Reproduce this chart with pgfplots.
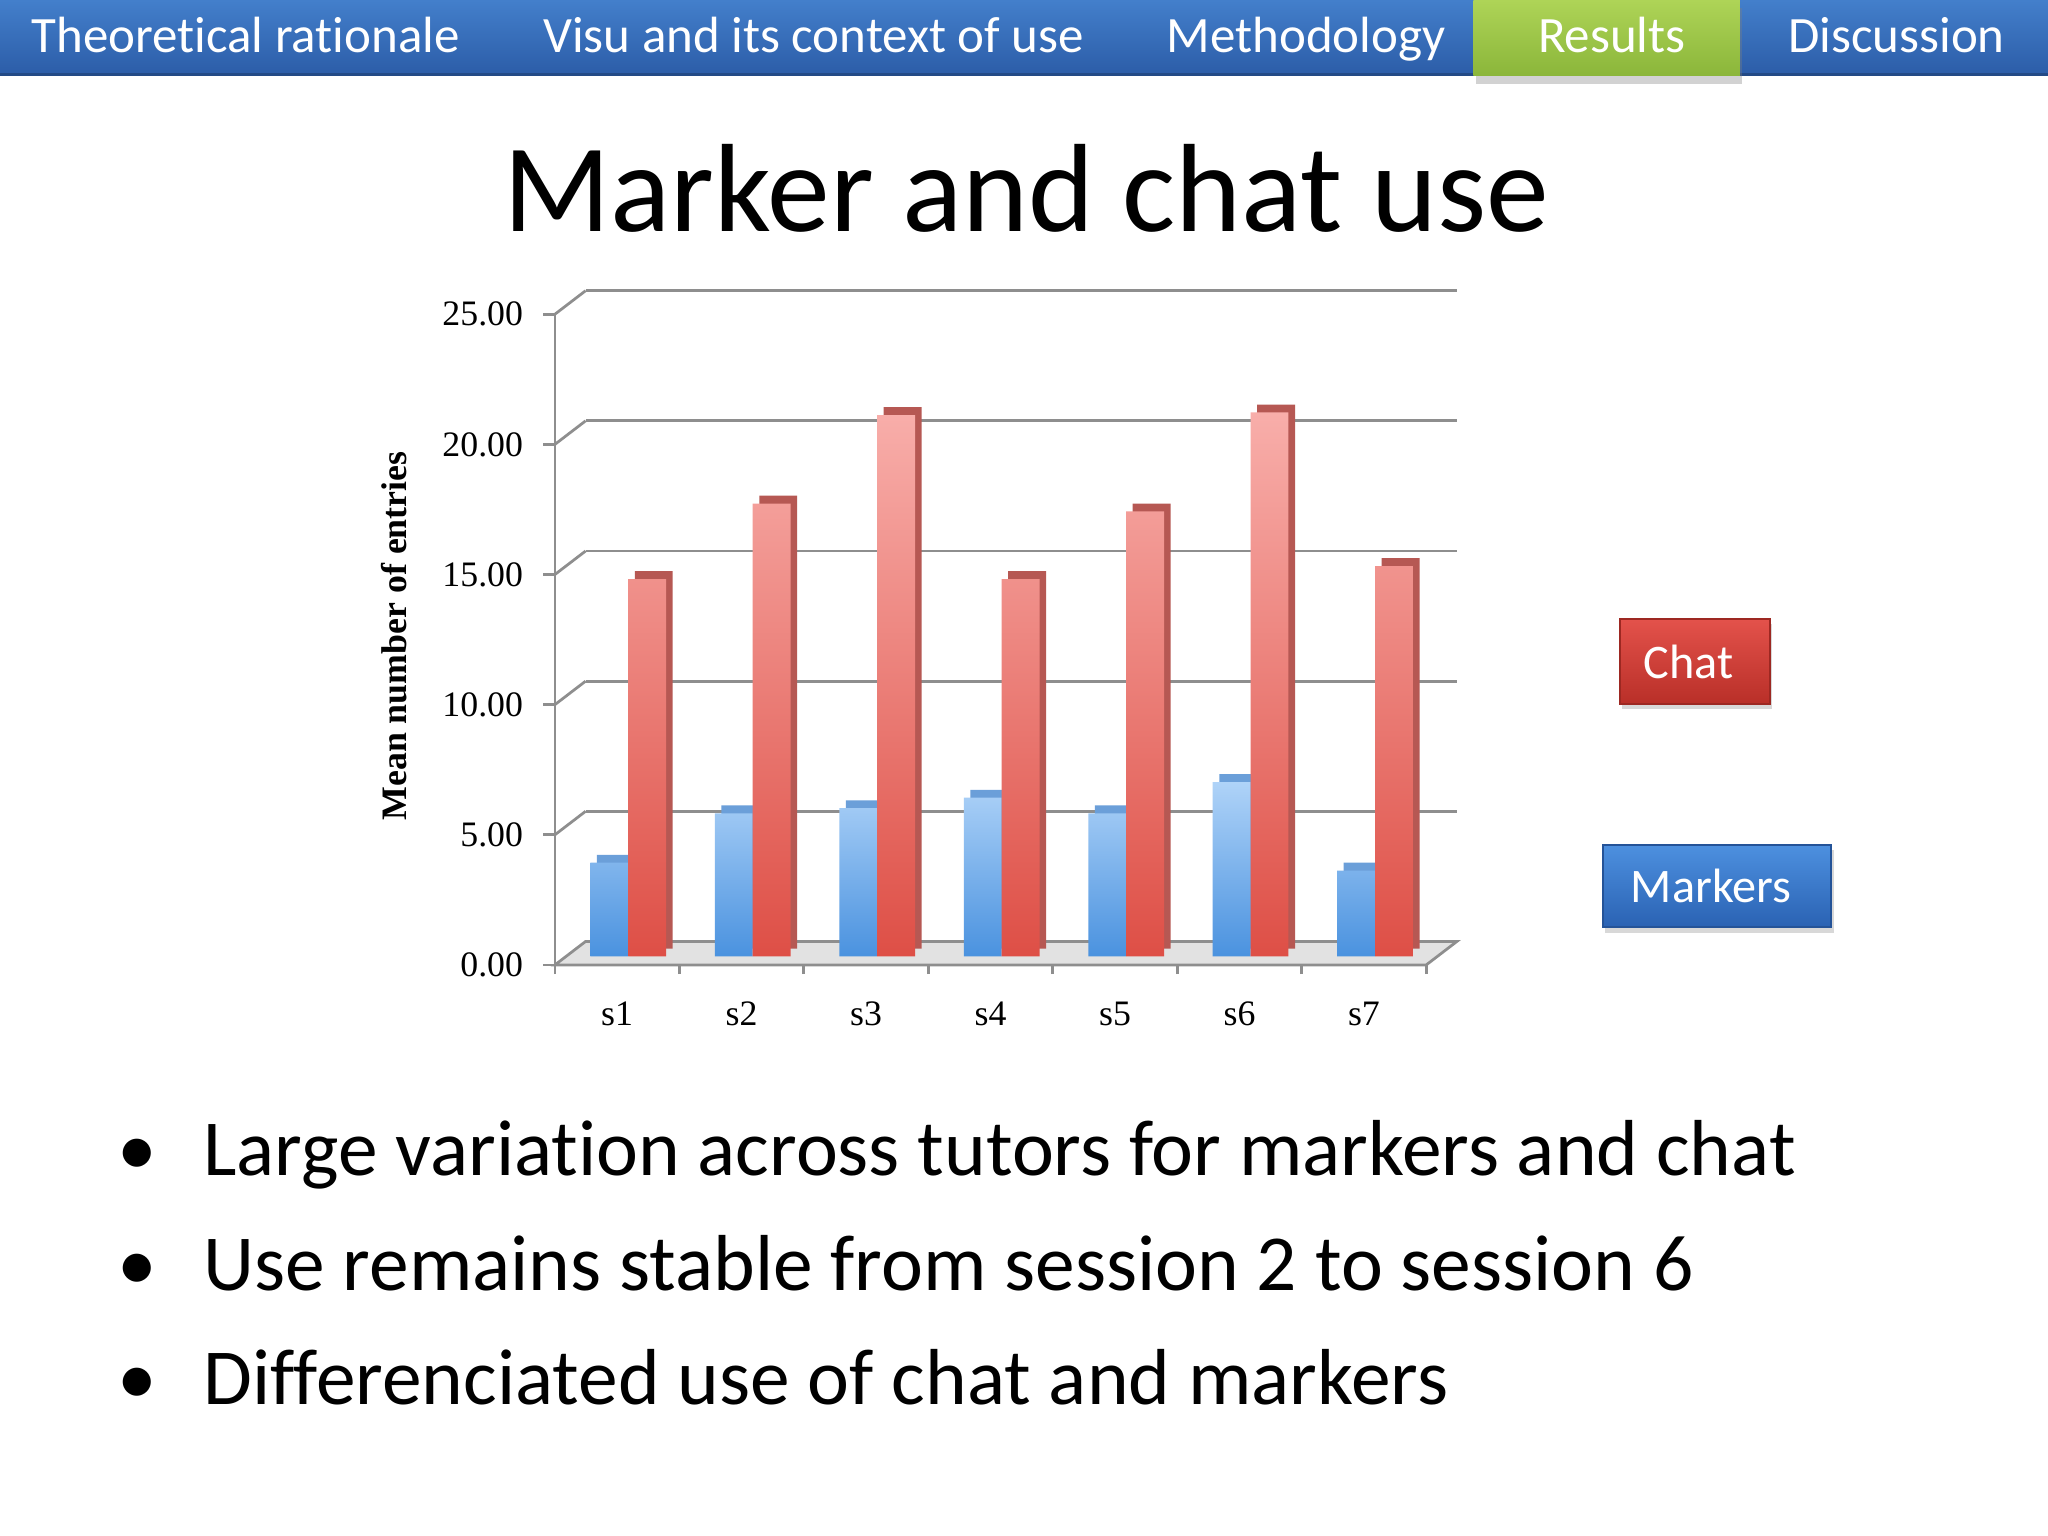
\documentclass[border=0pt]{standalone}
\usepackage{pgfplots}
\pgfplotsset{compat=1.18}
\usepackage{fontspec}
\setmainfont{Carlito}[Ligatures=NoCommon]
\newfontfamily\timesf{Liberation Serif}
\usetikzlibrary{shadows}
\definecolor{navtop}{HTML}{437FCB}
\definecolor{navbot}{HTML}{2C5DA8}
\definecolor{greentop}{HTML}{AED457}
\definecolor{greenbot}{HTML}{8BB63A}
\definecolor{axisgray}{HTML}{8E8E8E}
\definecolor{floorgray}{HTML}{E2E2E2}
\definecolor{redtop}{HTML}{F8AEAA}
\definecolor{redbot}{HTML}{DE4F46}
\definecolor{bluetop}{HTML}{AFD3F8}
\definecolor{bluebot}{HTML}{4A92DF}
\definecolor{reddark}{HTML}{B65853}
\definecolor{bluedark}{HTML}{6B9FD9}
\definecolor{legredtop}{HTML}{E3524B}
\definecolor{legredbot}{HTML}{B92F28}
\definecolor{legbluetop}{HTML}{4D90DF}
\definecolor{legbluebot}{HTML}{2A62B3}
\newcommand{\chartfont}{\timesf\fontsize{7.8}{9}\selectfont}
\pgfplotstableread{
x chat markers
1 14.5 3.6
2 17.4 5.5
3 20.8 5.7
4 14.5 6.1
5 17.1 5.5
6 20.9 6.7
7 15.0 3.3
}\sessions
\begin{document}
\begin{tikzpicture}
\path[use as bounding box, fill=white] (0,0) rectangle (15.68,11.76);
% navigation bar
\shade[top color=navtop, bottom color=navbot] (0,11.19) rectangle (15.68,11.76);
\draw[navbot!80!black, line width=0.5pt] (0,11.19) -- (15.68,11.19);
\shade[top color=greentop, bottom color=greenbot, drop shadow={opacity=0.35, shadow xshift=0.02cm, shadow yshift=-0.06cm}] (11.28,11.18) rectangle (13.32,11.76);
\begin{scope}[every node/.style={anchor=base, text=white, font=\fontsize{11.1}{13}\selectfont}]
\node at (1.88,11.36) {Theoretical rationale};
\node at (6.23,11.36) {Visu and its context of use};
\node at (10.00,11.36) {Methodology};
\node at (12.34,11.36) {Results};
\node at (14.52,11.36) {Discussion};
\end{scope}
% title
\node[anchor=base, font=\fontsize{27.35}{32}\selectfont] at (7.855,9.99) {Marker and chat use};
% back wall
\begin{axis}[at={(4.4835cm,4.552cm)}, anchor=south west, scale only axis,
  width=6.671cm, height=4.982cm, xmin=0.5, xmax=7.5, ymin=0, ymax=25,
  axis line style={draw=none}, tick style={draw=none},
  xtick=\empty, ytick={0,5,10,15,20,25}, yticklabels={},
  ymajorgrids, major grid style={draw=axisgray, line width=0.6pt}]
\end{axis}
% front frame
\begin{axis}[at={(4.2485cm,4.372cm)}, anchor=south west, scale only axis,
  width=6.671cm, height=4.982cm, xmin=0.5, xmax=7.5, ymin=0, ymax=25,
  clip=false,
  axis x line*=bottom, axis y line*=left,
  axis line style={draw=axisgray, line width=0.6pt, -},
  xtick={1,2,3,4,5,6,7},
  xticklabels={s1,s2,s3,s4,s5,s6,s7},
  minor xtick={0.5,1.5,2.5,3.5,4.5,5.5,6.5,7.5},
  ytick={0,5,10,15,20,25},
  tick align=outside,
  tick style={draw=axisgray, line width=0.6pt},
  major x tick style={draw=none},
  minor tick length=0.07cm, major tick length=0.09cm,
  tick label style={font=\chartfont},
  /pgf/number format/assume math mode=true,
  yticklabel={\pgfmathprintnumber[fixed, fixed zerofill, precision=2]{\tick}},
  yticklabel style={xshift=-0.03cm},
  xticklabel style={yshift=-0.07cm}]
\fill[floorgray, draw=axisgray, line width=0.6pt] (axis cs:0.5,0) -- (axis cs:7.5,0) -- ([shift={(0.235cm,0.18cm)}]axis cs:7.5,0) -- ([shift={(0.235cm,0.18cm)}]axis cs:0.5,0) -- cycle;
\pgfplotsinvokeforeach{5,10,15,20,25}{\draw[axisgray, line width=0.6pt] (axis cs:0.5,#1) -- ++(0.235cm,0.18cm);}
\end{axis}
% bar depth (side and top)
\begin{axis}[at={(4.3835cm,4.497cm)}, anchor=south west, scale only axis,
  width=6.671cm, height=4.982cm, xmin=0.5, xmax=7.5, ymin=0, ymax=25, hide axis]
\addplot[ybar, bar width=0.29cm, bar shift=-0.145cm, draw=none, fill=bluedark] table[x=x, y=markers] {\sessions};
\addplot[ybar, bar width=0.29cm, bar shift=0.145cm, draw=none, fill=reddark] table[x=x, y=chat] {\sessions};
\end{axis}
% bar fronts
\begin{axis}[at={(4.3335cm,4.437cm)}, anchor=south west, scale only axis,
  width=6.671cm, height=4.982cm, xmin=0.5, xmax=7.5, ymin=0, ymax=25, hide axis]
\addplot[ybar, bar width=0.29cm, bar shift=-0.145cm, draw=none, top color=bluetop, bottom color=bluebot] table[x=x, y=markers] {\sessions};
\addplot[ybar, bar width=0.29cm, bar shift=0.145cm, draw=none, top color=redtop, bottom color=redbot] table[x=x, y=chat] {\sessions};
\end{axis}
% y label
\node[rotate=90, font=\timesf\bfseries\fontsize{7.8}{9}\selectfont] at (3.02,6.89) {Mean number of entries};
% legend boxes
\shade[top color=legredtop, bottom color=legredbot, draw=legredbot!85!black, line width=0.4pt, drop shadow={opacity=0.3, shadow xshift=0.02cm, shadow yshift=-0.04cm}] (12.40,6.37) rectangle (13.55,7.02);
\node[text=white, font=\fontsize{10.5}{12}\selectfont] at (12.93,6.695) {Chat};
\shade[top color=legbluetop, bottom color=legbluebot, draw=legbluebot!85!black, line width=0.4pt, drop shadow={opacity=0.3, shadow xshift=0.02cm, shadow yshift=-0.04cm}] (12.27,4.66) rectangle (14.02,5.29);
\node[text=white, font=\fontsize{10.5}{12}\selectfont] at (13.10,4.975) {Markers};
% bullets
\begin{scope}[every node/.style={font=\fontsize{17.3}{20}\selectfont}]
\node[anchor=base] at (1.05,2.76) {•};
\node[anchor=base west, inner sep=0pt] at (1.55,2.76) {Large variation across tutors for markers and chat};
\node[anchor=base] at (1.05,1.88) {•};
\node[anchor=base west, inner sep=0pt] at (1.55,1.88) {Use remains stable from session 2 to session 6};
\node[anchor=base] at (1.05,1.01) {•};
\node[anchor=base west, inner sep=0pt] at (1.55,1.01) {Differenciated use of chat and markers};
\end{scope}
\end{tikzpicture}
\end{document}
